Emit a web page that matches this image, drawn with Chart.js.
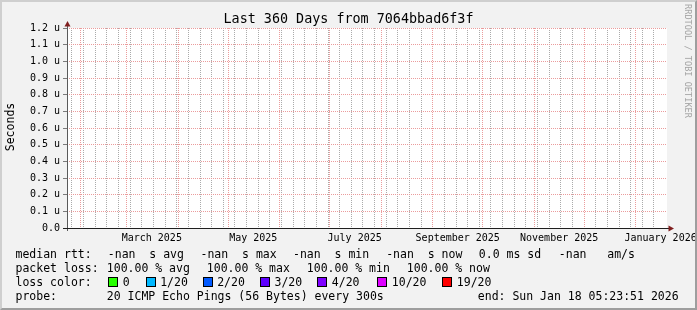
<!DOCTYPE html>
<html lang="en">
<head>
<meta charset="UTF-8">
<title>Last 360 Days from 7064bbad6f3f</title>
<script src="https://cdn.jsdelivr.net/npm/chart.js"></script>
<style>
  body { margin: 0; background: #fff; }
  #graph { position: relative; width: 697px; height: 310px; background: #f2f2f2; overflow: hidden;
           font-family: 'DejaVu Sans Mono', monospace; color: #000; }
  #graph canvas { position: absolute; left: 0; top: 0; }
  #frame { position: absolute; left: 0; top: 0; width: 697px; height: 310px; box-sizing: border-box;
           border: 2px solid; border-color: #cfcfcf #9e9e9e #9e9e9e #cfcfcf; pointer-events: none; }
  .t { position: absolute; white-space: pre; font-size: 11.5px; line-height: 14px; }
  .sw { position: absolute; width: 8px; height: 8px; border: 1px solid #000; }
  #title { position: absolute; left: 0; top: 11px; width: 697px; text-align: center; font-size: 13.4px; line-height: 16px; white-space: pre; }
  #ylabel { position: absolute; left: -30px; top: 120px; width: 80px; text-align: center; font-size: 11.5px; line-height: 14px; transform: rotate(-90deg); }
  #mark { position: absolute; left: 628px; top: 56px; width: 120px; text-align: center; font-size: 8.6px; line-height: 10px; color: #a4a4a4; transform: rotate(90deg); white-space: pre; }
</style>
</head>
<body>
<div id="graph">
  <canvas id="rrd" width="697" height="310"></canvas>
  <div id="title">Last 360 Days from 7064bbad6f3f</div>
  <div id="ylabel">Seconds</div>
  <div id="mark">RRDTOOL / TOBI OETIKER</div>
  <div id="legend"></div>
  <div id="frame"></div>
</div>

<script>
// x values are days counted from 1 Jan 2025
const axisStartDay = 23.0;
const axisEndDay = 383.86;
const lastDataDay = 382.2;   // Sun Jan 18 05:23:51 2026
const monthStartDays = [31, 59, 90, 120, 151, 181, 212, 243, 273, 304, 334, 365];
const monthLabelDays = [74, 135, 196, 258, 319, 380];
const monthLabels = ['March 2025', 'May 2025', 'July 2025', 'September 2025', 'November 2025', 'January 2026'];

const yTickValues = [0, 0.1, 0.2, 0.3, 0.4, 0.5, 0.6, 0.7, 0.8, 0.9, 1.0, 1.1, 1.2];
const yTickLabels = ['0.0', '0.1 u', '0.2 u', '0.3 u', '0.4 u', '0.5 u', '0.6 u', '0.7 u', '0.8 u', '0.9 u', '1.0 u', '1.1 u', '1.2 u'];

// every ping was lost: median rtt is nan for the whole period
const sampleDays = [23, 60, 120, 180, 240, 300, 360, 382];
const medianRtt = [null, null, null, null, null, null, null, null];

const rttLegend = ['median rtt:', '-nan  s avg', '-nan  s max', '-nan  s min', '-nan  s now', '0.0 ms sd', '-nan   am/s'];
const lossLegend = ['packet loss:', '100.00 % avg', '100.00 % max', '100.00 % min', '100.00 % now'];
const lossLabels = ['0', '1/20', '2/20', '3/20', '4/20', '10/20', '19/20'];
const lossColors = ['#26ff00', '#00b8ff', '#0059ff', '#5e00ff', '#7e00ff', '#dd00ff', '#ff0000'];
const probeLegend = ['probe:', '20 ICMP Echo Pings (56 Bytes) every 300s', 'end: Sun Jan 18 05:23:51 2026'];

// legend layout
const rttX = [15.5, 107.8, 200.5, 293, 386.2, 478.8, 558.8];
const lossX = [15.5, 106.8, 206.8, 306.8, 406.8];
const swatchX = [108.3, 145.7, 202.7, 260, 317.3, 377.3, 442.3];
const probeX = [15.5, 106.8, 477.8];
const rowY = [254, 268.3, 281.7, 296];

const legend = document.getElementById('legend');
function addText(x, cy, s) {
    const d = document.createElement('div');
    d.className = 't';
    d.style.left = x + 'px';
    d.style.top = (cy - 7) + 'px';
    d.textContent = s;
    legend.appendChild(d);
}
rttLegend.forEach((s, i) => addText(rttX[i], rowY[0], s));
lossLegend.forEach((s, i) => addText(lossX[i], rowY[1], s));
addText(15.5, rowY[2], 'loss color:');
lossLabels.forEach((s, i) => {
    const b = document.createElement('div');
    b.className = 'sw';
    b.style.left = swatchX[i] + 'px';
    b.style.top = '277px';
    b.style.background = lossColors[i];
    legend.appendChild(b);
    addText(swatchX[i] + 14.5, rowY[2], s);
});
probeLegend.forEach((s, i) => addText(probeX[i], rowY[3], s));

// grid ticks: weeks (minor), months (major), and label-only ticks
const weekDays = [];
for (let d = 26; d < lastDataDay; d += 7) {
    if (!monthStartDays.includes(d)) weekDays.push(d);
}
const xTickDays = weekDays.concat(monthLabelDays, monthStartDays);
const monthLabelFor = new Map(monthLabelDays.map((d, i) => [d, monthLabels[i]]));

function xGridColor(ctx) {
    if (!ctx.tick) return 'rgba(0,0,0,0)';
    const v = ctx.tick.value;
    if (monthStartDays.includes(v)) return '#eb9c9c';
    if (monthLabelFor.has(v)) return 'rgba(0,0,0,0)';
    return '#ababab';
}

const rrdCanvas = {
    id: 'rrdCanvas',
    beforeDraw(chart) {
        const {ctx, chartArea: a} = chart;
        ctx.save();
        ctx.fillStyle = '#ffffff';
        ctx.fillRect(a.left, a.top, a.right - a.left, a.bottom - a.top);
        ctx.restore();
    },
    afterDraw(chart) {
        const {ctx, chartArea: a} = chart;
        ctx.save();
        ctx.lineWidth = 1;
        // y axis
        ctx.strokeStyle = '#5a5a5a';
        ctx.beginPath();
        ctx.moveTo(a.left + 0.5, a.bottom + 3);
        ctx.lineTo(a.left + 0.5, a.top - 3);
        ctx.stroke();
        // x axis
        ctx.strokeStyle = '#1f1f1f';
        ctx.beginPath();
        ctx.moveTo(a.left - 4, a.bottom + 0.5);
        ctx.lineTo(a.right + 2, a.bottom + 0.5);
        ctx.stroke();
        // arrows
        ctx.fillStyle = '#801f1f';
        ctx.beginPath();
        ctx.moveTo(a.left + 0.5, a.top - 7);
        ctx.lineTo(a.left - 2.5, a.top - 1.5);
        ctx.lineTo(a.left + 3.5, a.top - 1.5);
        ctx.closePath();
        ctx.fill();
        ctx.beginPath();
        ctx.moveTo(a.right + 7, a.bottom + 0.5);
        ctx.lineTo(a.right + 1.5, a.bottom - 2.5);
        ctx.lineTo(a.right + 1.5, a.bottom + 3.5);
        ctx.closePath();
        ctx.fill();
        ctx.restore();
    }
};

Chart.defaults.font.family = "'DejaVu Sans Mono', monospace";
Chart.defaults.color = '#000';

new Chart(document.getElementById('rrd'), {
    type: 'line',
    data: {
        datasets: [{
            label: 'median rtt',
            data: sampleDays.map((d, i) => ({x: d, y: medianRtt[i]})),
            borderColor: lossColors[0],
            borderWidth: 1,
            pointRadius: 0,
            spanGaps: false
        }]
    },
    options: {
        responsive: false,
        animation: false,
        devicePixelRatio: 1,
        layout: { padding: { top: 28, right: 30, left: 0, bottom: 0 } },
        plugins: {
            legend: { display: false },
            tooltip: { enabled: false },
            title: { display: false }
        },
        scales: {
            x: {
                type: 'linear',
                min: axisStartDay,
                max: axisEndDay,
                afterBuildTicks: s => { s.ticks = xTickDays.map(v => ({value: v})); },
                afterFit: s => { s.height = 82; },
                ticks: {
                    autoSkip: false,
                    maxRotation: 0,
                    minRotation: 0,
                    padding: 4,
                    font: { size: 10 },
                    callback: v => monthLabelFor.get(v) || ''
                },
                grid: { color: xGridColor, lineWidth: 1, drawTicks: false },
                border: { display: false, dash: [1, 1] }
            },
            y: {
                type: 'linear',
                min: 0,
                max: 1.2,
                afterBuildTicks: s => { s.ticks = yTickValues.map(v => ({value: v})); },
                afterFit: s => { s.width = 67; },
                ticks: {
                    padding: 3,
                    font: { size: 10 },
                    callback: (v, i) => yTickLabels[i]
                },
                grid: { color: '#eb9c9c', lineWidth: 1, tickLength: 4, tickColor: '#7a7a7a' },
                border: { display: false, dash: [1, 1] }
            }
        }
    },
    plugins: [rrdCanvas]
});
</script>
</body>
</html>
